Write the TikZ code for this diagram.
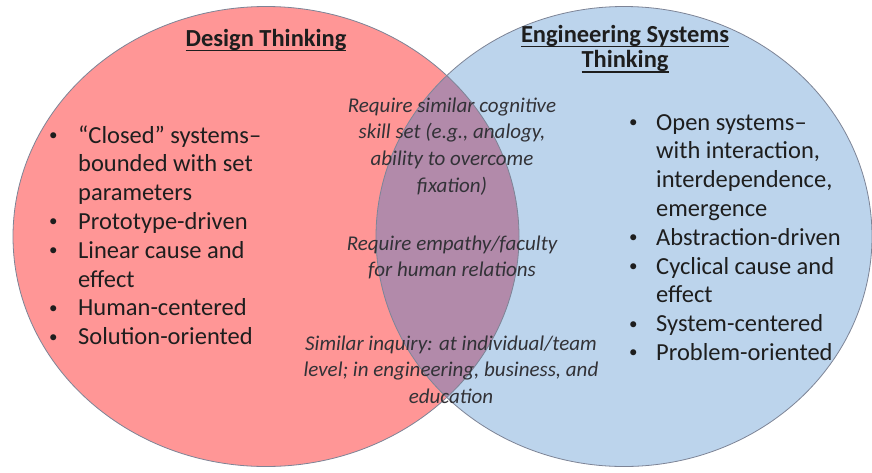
\documentclass[tikz,border=0pt]{standalone}
\usepackage{fontspec}
\setmainfont{Carlito}

\definecolor{designred}{RGB}{255,150,150}
\definecolor{systemsblue}{RGB}{188,212,236}
\definecolor{sharedmauve}{RGB}{178,138,170}
\definecolor{rimgray}{RGB}{125,132,150}
\definecolor{inkgray}{RGB}{30,30,30}
\definecolor{notegray}{RGB}{50,50,55}

\newsavebox{\headbox}
\newcommand{\headul}[1]{\sbox{\headbox}{#1}\usebox{\headbox}\llap{\rule[-5pt]{\wd\headbox}{1.2pt}}}
\newcommand{\rows}[2]{\begin{tabular}[t]{@{}#1@{}}#2\end{tabular}}
\newcommand{\itemdot}{\raisebox{2.5pt}{\fontsize{17}{17}\selectfont\textbullet}}

\begin{document}
\begin{tikzpicture}[x=1pt, y=-1pt,
    designset/.style={insert path={(266,236.5) ellipse [x radius=253pt, y radius=230pt]}},
    systemsset/.style={insert path={(624,236.5) ellipse [x radius=248pt, y radius=230pt]}},
    rim/.style={draw=rimgray, line width=0.8pt},
    heading/.style={inner sep=0pt, anchor=base, text=inkgray, font=\bfseries\fontsize{24.5}{25.5}\selectfont},
    bullets/.style={inner sep=0pt, anchor=base west, text=inkgray, font=\fontsize{24.5}{28.8}\selectfont},
    note/.style={inner sep=0pt, anchor=base, text=notegray, font=\itshape\fontsize{21}{26.7}\selectfont}]
    \useasboundingbox[fill=white] (0,0) rectangle (872,472);

    % the two sets and their overlap
    \fill[designred, designset];
    \fill[systemsblue, systemsset];
    \begin{scope}
        \clip[designset];
        \fill[sharedmauve, systemsset];
    \end{scope}
    \draw[rim, designset];
    \draw[rim, systemsset];

    \node[heading] (dthead) at (266,46) {\headul{Design Thinking}};
    \node[heading] (esthead) at (625,42) {\rows{c}{\headul{Engineering Systems}\\ \headul{Thinking}}};

    \node[bullets] (designlist) at (49,143) {\rows{p{29pt}@{}l}{%
        \itemdot & “Closed” systems–\\
        & bounded with set\\
        & parameters\\
        \itemdot & Prototype-driven\\
        \itemdot & Linear cause and\\
        & effect\\
        \itemdot & Human-centered\\
        \itemdot & Solution-oriented}};

    \node[bullets] (systemslist) at (629,130) {\rows{p{27pt}@{}l}{%
        \itemdot & Open systems–\\
        & with interaction,\\
        & interdependence,\\
        & emergence\\
        \itemdot & Abstraction-driven\\
        \itemdot & Cyclical cause and\\
        & effect\\
        \itemdot & System-centered\\
        \itemdot & Problem-oriented}};

    % what both share
    \node[note] (cognition) at (452,112) {\rows{c}{Require similar cognitive\\ skill set (e.g., analogy,\\ ability to overcome\\ fixation)}};
    \node[note] (empathy) at (452,250) {\rows{c}{Require empathy/faculty\\ for human relations}};
    \node[note] (inquiry) at (451,350) {\rows{c}{Similar inquiry: at individual/team\\ level; in engineering, business, and\\ education}};
\end{tikzpicture}
\end{document}
